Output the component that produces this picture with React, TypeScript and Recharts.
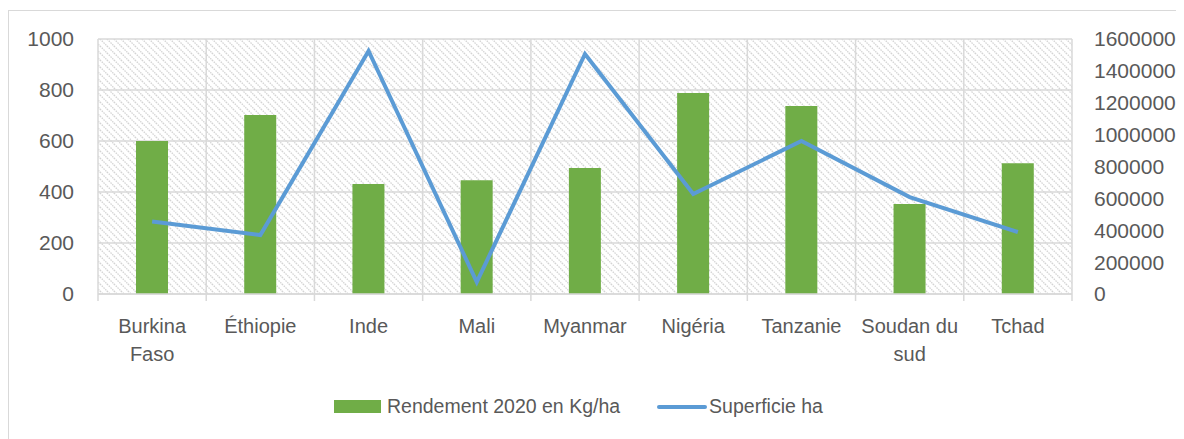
import React from 'react';
import { ComposedChart, Bar, Line, XAxis, YAxis, CartesianGrid, Legend } from 'recharts';

const categories = ['Burkina Faso', 'Éthiopie', 'Inde', 'Mali', 'Myanmar', 'Nigéria', 'Tanzanie', 'Soudan du sud', 'Tchad'];
const rendement = [600, 702, 431, 446, 494, 788, 737, 353, 513];
const superficie = [455000, 370000, 1525000, 75000, 1506000, 627000, 960000, 608000, 389000];
const leftTicks = [0, 200, 400, 600, 800, 1000];
const rightTicks = [0, 200000, 400000, 600000, 800000, 1000000, 1200000, 1400000, 1600000];
const boundaryTicks = [0, 1, 2, 3, 4, 5, 6, 7, 8, 9];

const data = categories.map((c, i) => ({ name: c, rendement: rendement[i], superficie: superficie[i] }));

const FONT = '"Liberation Sans", Arial, sans-serif';
const TEXT = '#595959';
const GRID = '#d9d9d9';

function wrap(s: string, max = 9): string[] {
  const words = s.split(' ');
  const lines: string[] = [];
  let cur = '';
  for (const w of words) {
    const t = cur ? cur + ' ' + w : w;
    if (t.length > max && cur) {
      lines.push(cur);
      cur = w;
    } else cur = t;
  }
  if (cur) lines.push(cur);
  return lines;
}

const CatTick = (props: any) => {
  const { x, y, payload, width, index } = props;
  const lines = wrap(String(payload.value));
  const half = width / categories.length / 2;
  const last = index === categories.length - 1;
  return (
    <g transform={`translate(${x},${y})`}>
      <line x1={-half} x2={-half} y1={0} y2={7} stroke={GRID} strokeWidth={1.5} />
      {last && <line x1={half} x2={half} y1={0} y2={7} stroke={GRID} strokeWidth={1.5} />}
      <text textAnchor="middle" fill={TEXT} fontSize={20} fontFamily={FONT}>
        {lines.map((l, i) => (
          <tspan key={i} x={0} dy={i === 0 ? 39 : 28}>{l}</tspan>
        ))}
      </text>
    </g>
  );
};

const LegendContent = () => (
  <div style={{ display: 'flex', alignItems: 'center', fontFamily: FONT, fontSize: 19.5, color: TEXT, whiteSpace: 'nowrap' }}>
    <span style={{ display: 'inline-block', width: 47, height: 13, background: '#70ad47', marginRight: 6 }} />
    <span>Rendement 2020 en Kg/ha</span>
    <span style={{ display: 'inline-block', width: 50, height: 4, borderRadius: 2, background: '#5b9bd5', marginLeft: 37, marginRight: 2 }} />
    <span>Superficie ha</span>
  </div>
);

const verticalGen = ({ offset }: any) =>
  boundaryTicks.map((b) => offset.left + (b * offset.width) / categories.length);

export default function App() {
  return (
    <div style={{ marginTop: 2, width: 1175, height: 428, borderLeft: '1px solid #d9d9d9', borderTop: '1px solid #d9d9d9', overflow: 'hidden', position: 'relative' }}>
      <svg width={0} height={0} style={{ position: 'absolute' }}>
        <defs>
          <pattern id="hatch" width={7} height={7} patternUnits="userSpaceOnUse">
            <rect width={7} height={7} fill="#ffffff" />
            <path d="M0,0 L7,7 M-2,5 L2,9 M5,-2 L9,2" stroke="#d4d4d4" strokeWidth={1.3} strokeDasharray="1.5 1" />
          </pattern>
        </defs>
      </svg>
      <ComposedChart width={1175} height={428} data={data} margin={{ top: 28, right: 0, left: 0, bottom: 0 }}>
        <XAxis xAxisId="cat" dataKey="name" tick={<CatTick />} tickLine={false} tickSize={0} tickMargin={0} axisLine={{ stroke: GRID, strokeWidth: 1.5 }} height={121} interval={0} />
        <YAxis yAxisId="left" orientation="left" domain={[0, 1000]} ticks={leftTicks} width={89} axisLine={false} tickLine={false} tickSize={0} tickMargin={24} tick={{ fill: TEXT, fontSize: 21, fontFamily: FONT }} />
        <YAxis yAxisId="right" orientation="right" domain={[0, 1600000]} ticks={rightTicks} width={112} axisLine={false} tickLine={false} tickSize={0} tickMargin={22} tick={{ fill: TEXT, fontSize: 21, fontFamily: FONT, textAnchor: 'start' }} />
        <CartesianGrid xAxisId="cat" yAxisId="left" stroke={GRID} strokeWidth={1.5} fill="url(#hatch)" fillOpacity={1} verticalCoordinatesGenerator={verticalGen} />
        <Bar xAxisId="cat" yAxisId="left" dataKey="rendement" fill="#70ad47" barSize={32} isAnimationActive={false} />
        <Line xAxisId="cat" yAxisId="right" dataKey="superficie" stroke="#5b9bd5" strokeWidth={4} dot={false} activeDot={false} type="linear" isAnimationActive={false} />
        <Legend content={<LegendContent />} wrapperStyle={{ position: 'absolute', left: 325, top: 384, width: 'auto', height: 24 }} />
      </ComposedChart>
    </div>
  );
}
